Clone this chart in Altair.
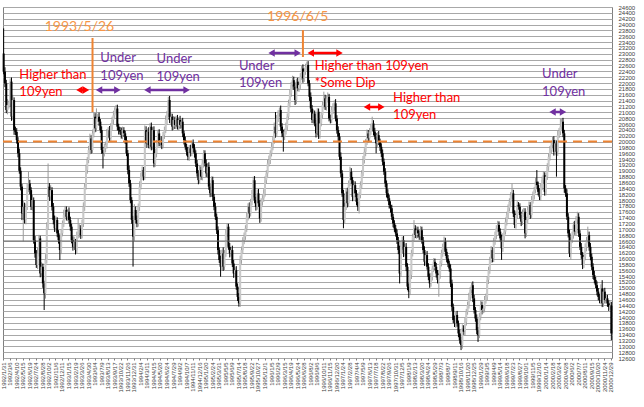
import altair as alt
import pandas as pd

# ---------------- data (weekly candles) ----------------
start_date = "1992-01-31"
first_open = 23010
closes = [
    22390, 21990, 21080, 21250, 21300, 22050, 20850, 21420, 20390, 20330,
    20050, 19600, 19000, 18460, 17540, 17770, 17320, 17770, 18400, 18570,
    18340, 17770, 18000, 16630, 16180, 15780, 16180, 16690, 15490, 15720,
    15150, 14810, 15950, 17090, 18460, 18110, 18340, 17770, 17320, 17030,
    17320, 16860, 16630, 16290, 16860, 17200, 17490, 17660, 17430, 17600,
    17320, 17090, 16630, 16400, 16580, 16290, 16800, 16860, 17030, 16800,
    17200, 17770, 18460, 19030, 19370, 19710, 20110, 19710, 20280, 20850,
    20450, 20790, 20850, 20680, 20390, 19710, 19600, 19770, 19880, 20280,
    20390, 20110, 20510, 20740, 20900, 21080, 21130, 20510, 20390, 20340,
    20220, 20390, 20280, 20050, 19600, 19030, 18570, 18000, 17320, 16750,
    17660, 17320, 17200, 17770, 18460, 18800, 19030, 18800, 20390, 19940,
    20340, 19880, 20510, 19820, 20390, 19250, 19600, 19940, 20280, 19940,
    20050, 19880, 20220, 20390, 20740, 20960, 21420, 20740, 20850, 20510,
    20740, 20560, 20790, 20510, 20740, 20560, 20680, 20280, 20050, 19820,
    19650, 19480, 19770, 19600, 19940, 19770, 19600, 19250, 18910, 18680,
    19030, 18800, 19250, 19600, 19250, 18910, 19140, 18460, 18230, 18680,
    18110, 17770, 17430, 16970, 16290, 15950, 15720, 16180, 15720, 16180,
    16860, 17090, 16400, 16180, 16290, 15830, 15490, 15600, 15040, 14690,
    14470, 15950, 16290, 16630, 16750, 17030, 17430, 17770, 17540, 17940,
    18230, 18680, 18000, 17770, 18230, 17890, 17370, 17940, 18060, 18230,
    18680, 18910, 19250, 19370, 19600, 19820, 20050, 20510, 20280, 20790,
    20960, 21080, 20510, 20280, 20170, 20340, 20510, 20850, 21310, 21650,
    21930, 22100, 21880, 21420, 22050, 21820, 21930, 22220, 22500, 22160,
    22390, 22560, 22620, 21990, 21530, 21130, 20740, 20960, 20620, 20280,
    21020, 20220, 20620, 20910, 21250, 21480, 21190, 21480, 21530, 20790,
    20740, 21080, 21190, 21310, 20790, 20390, 20170, 19480, 18910, 18230,
    17320, 17770, 18290, 17890, 18570, 18970, 18680, 18110, 18510, 18230,
    17940, 17770, 18170, 18510, 18910, 19370, 19650, 19990, 20280, 20110,
    20340, 20510, 20620, 20340, 20170, 19940, 20220, 19990, 19820, 19600,
    19310, 18970, 18570, 18230, 18060, 17830, 17720, 17430, 17200, 17030,
    16860, 16630, 16290, 15490, 16400, 16630, 16180, 16400, 15720, 15040,
    14870, 15440, 16180, 16750, 17030, 16800, 16970, 16860, 16750, 16970,
    16630, 16290, 15890, 16120, 15720, 15380, 15150, 15380, 15660, 15890,
    15720, 15490, 15270, 15440, 15830, 16180, 16400, 16580, 16230, 16000,
    15830, 15660, 15150, 14350, 13900, 13780, 14070, 13780, 13440, 13210,
    13040, 13610, 13500, 13840, 14180, 14410, 14690, 14920, 15090, 14640,
    14240, 13950, 13550, 13380, 14010, 14410, 14240, 14290, 14580, 14690,
    15270, 15600, 15950, 16290, 16000, 16580, 16800, 17030, 17150, 16920,
    16690, 16350, 16750, 16920, 17260, 17490, 17720, 17940, 18170, 18230,
    17540, 17150, 17490, 17830, 17770, 17490, 17260, 17540, 17600, 16860,
    17320, 17660, 17830, 17490, 18000, 18170, 18340, 18630, 18510, 18280,
    18110, 18460, 18680, 18850, 18280, 18800, 19140, 19480, 19710, 19880,
    20050, 19650, 19940, 19650, 20220, 20340, 20510, 20680, 20280, 18400,
    18230, 17430, 16860, 16180, 16630, 16800, 17150, 16920, 17320, 17430,
    16860, 16400, 16120, 15780, 16060, 16400, 16630, 16800, 16400, 16060,
    15720, 15440, 15270, 15090, 14870, 14690, 14580, 14980, 14470, 14870,
    14580, 14640, 14470, 14350, 14400, 13440,
]
upper_wick = [
    860, 150, 120, 200, 100, 110, 140, 180, 90, 120,
    130, 100, 160, 120, 90, 200, 140, 110, 150, 400,
    120, 100, 180, 90, 140, 110, 200, 120, 90, 150,
    110, 90, 200, 150, 790, 120, 180, 100, 130, 150,
    120, 90, 110, 160, 130, 100, 180, 140, 120, 90,
    150, 110, 100, 130, 170, 90, 120, 510, 140, 110,
    130, 150, 120, 180, 100, 140, 160, 110, 130, 150,
    120, 345, 100, 140, 90, 130, 110, 160, 120, 150,
    100, 140, 120, 110, 150, 90, 120, 130, 100, 110,
    140, 120, 100, 90, 130, 110, 150, 120, 100, 140,
    200, 120, 150, 110, 180, 140, 120, 100, 160, 130,
    110, 150, 120, 140, 100, 130, 150, 110, 120, 140,
    100, 130, 110, 120, 150, 90, 110, 140, 120, 100,
    130, 110, 90, 120, 100, 140, 110, 130, 90, 120,
    100, 150, 110, 120, 90, 130, 140, 100, 120, 110,
    160, 120, 130, 110, 100, 140, 120, 150, 110, 130,
    120, 100, 140, 110, 130, 90, 150, 120, 200, 110,
    140, 120, 100, 130, 110, 150, 120, 100, 140, 110,
    130, 150, 120, 100, 140, 110, 130, 120, 150, 100,
    120, 120, 140, 110, 130, 150, 100, 120, 110, 140,
    130, 110, 120, 150, 100, 130, 110, 140, 500, 120,
    110, 85, 150, 120, 130, 100, 140, 110, 120, 130,
    110, 150, 120, 140, 100, 130, 110, 120, 90, 140,
    120, 100, 115, 130, 110, 150, 120, 140, 100, 130,
    120, 110, 140, 100, 130, 225, 120, 110, 150, 100,
    130, 110, 120, 100, 140, 110, 130, 120, 150, 110,
    120, 140, 110, 130, 100, 170, 120, 110, 140, 130,
    110, 120, 100, 130, 110, 140, 120, 100, 130, 110,
    120, 100, 230, 110, 130, 120, 100, 140, 110, 120,
    130, 110, 120, 100, 140, 110, 130, 120, 100, 110,
    120, 130, 110, 150, 180, 120, 140, 110, 130, 120,
    110, 140, 120, 100, 285, 110, 130, 120, 100, 140,
    120, 110, 130, 100, 140, 120, 110, 130, 100, 120,
    110, 130, 120, 140, 100, 120, 110, 170, 130, 110,
    120, 100, 140, 130, 110, 150, 120, 140, 100, 130,
    120, 140, 110, 130, 100, 120, 140, 110, 110, 130,
    120, 100, 140, 110, 130, 150, 120, 100, 140, 110,
    130, 120, 110, 140, 100, 130, 120, 110, 140, 120,
    110, 130, 120, 100, 140, 110, 130, 120, 100, 340,
    120, 110, 140, 130, 100, 120, 110, 140, 130, 120,
    110, 130, 120, 100, 140, 120, 110, 130, 395, 120,
    130, 110, 120, 140, 100, 130, 120, 110, 140, 120,
    110, 130, 120, 100, 140, 120, 280, 110, 130, 120,
    110, 140, 120, 130, 100, 120, 110, 140, 130, 170,
    120, 110, 130, 100, 140, 120, 110, 290, 120, 130,
    110, 120, 140, 100, 130, 120, 110, 140, 280, 120,
    130, 110, 120, 100, 140, 120,
]
lower_wick = [
    90, 130, 110, 150, 120, 100, 140, 120, 160, 110,
    120, 140, 100, 130, 225, 965, 120, 150, 110, 130,
    140, 110, 130, 120, 150, 100, 140, 110, 130, 120,
    150, 570, 180, 120, 100, 140, 110, 130, 150, 120,
    110, 130, 120, 340, 140, 100, 120, 110, 130, 150,
    120, 140, 110, 130, 100, 150, 120, 110, 140, 130,
    110, 120, 140, 100, 130, 110, 150, 120, 100, 140,
    130, 110, 120, 140, 100, 130, 520, 110, 140, 120,
    120, 100, 130, 110, 140, 120, 110, 130, 150, 100,
    120, 140, 110, 130, 100, 150, 120, 110, 130, 1025,
    150, 120, 130, 110, 140, 100, 120, 130, 110, 150,
    130, 110, 140, 120, 100, 130, 110, 140, 120, 100,
    120, 140, 110, 130, 100, 150, 120, 110, 140, 130,
    110, 130, 120, 100, 140, 120, 110, 130, 150, 100,
    130, 120, 140, 110, 100, 130, 150, 120, 110, 140,
    120, 110, 130, 140, 100, 120, 150, 110, 130, 120,
    140, 120, 110, 130, 150, 100, 340, 120, 140, 110,
    120, 130, 100, 140, 110, 120, 150, 130, 110, 140,
    115, 120, 130, 100, 140, 110, 120, 130, 150, 100,
    120, 140, 110, 130, 100, 120, 150, 110, 130, 120,
    110, 130, 120, 100, 140, 110, 120, 130, 150, 100,
    120, 110, 140, 130, 515, 120, 100, 130, 110, 140,
    120, 130, 110, 170, 140, 100, 120, 130, 110, 150,
    120, 110, 130, 100, 140, 120, 110, 130, 100, 140,
    110, 130, 120, 100, 140, 120, 110, 130, 150, 100,
    120, 110, 140, 130, 100, 120, 150, 110, 130, 120,
    285, 120, 110, 140, 130, 100, 120, 150, 110, 130,
    120, 140, 230, 110, 130, 100, 120, 150, 110, 130,
    120, 110, 140, 130, 100, 340, 120, 110, 140, 130,
    120, 110, 130, 140, 100, 120, 150, 110, 130, 120,
    110, 130, 140, 340, 120, 100, 130, 110, 150, 120,
    225, 120, 140, 110, 130, 100, 120, 150, 110, 130,
    120, 110, 140, 130, 100, 120, 150, 110, 130, 120,
    110, 140, 120, 575, 130, 100, 120, 110, 140, 130,
    120, 110, 130, 140, 100, 120, 150, 110, 130, 120,
    170, 120, 110, 140, 130, 100, 120, 150, 110, 130,
    120, 110, 140, 230, 100, 120, 150, 110, 130, 120,
    110, 140, 120, 100, 130, 120, 110, 140, 130, 120,
    110, 395, 120, 140, 100, 130, 120, 110, 140, 130,
    120, 110, 130, 140, 100, 120, 150, 110, 130, 170,
    120, 110, 140, 130, 100, 120, 150, 110, 130, 120,
    110, 140, 120, 100, 130, 120, 110, 140, 130, 120,
    110, 130, 120, 850, 140, 100, 120, 110, 130, 150,
    120, 110, 140, 130, 225, 100, 120, 110, 130, 140,
    120, 110, 130, 140, 100, 120, 150, 110, 130, 120,
    110, 140, 120, 100, 130, 120, 110, 140, 130, 120,
    110, 130, 120, 140, 100, 230,
]

y_ticks = list(range(12600, 24601, 200))
ref_level = 20000
dark_level = 16600

# annotations: (text, week index, price, colour)
RED, PURPLE, ORANGE = "#ff0000", "#7030a0", "#f79646"
notes_left = [
    ("Higher than", 12, 22275, RED), ("109yen", 12, 21694, RED),
    ("Under", 74, 22856, PURPLE), ("109yen", 74, 22241, PURPLE),
    ("Under", 117, 22822, PURPLE), ("109yen", 117, 22207, PURPLE),
    ("Under", 180, 22583, PURPLE), ("109yen", 180, 22002, PURPLE),
    ("Higher than 109yen", 238, 22583, RED), ("*Some Dip", 238, 22002, RED),
    ("Higher than", 298, 21489, RED), ("109yen", 298, 20908, RED),
    ("Under", 412, 22310, PURPLE), ("109yen", 412, 21694, PURPLE),
]
notes_date = [("1993/5/26", 58, 23916, ORANGE), ("1996/6/5", 225, 24258, ORANGE)]
# vertical markers: (week index, low price, high price)
markers = [(68, 21010, 23540), (229, 22890, 23810)]
# double arrows: (week start, week end, price, colour)
arrows = [
    (58, 63, 21762, RED), (73, 87, 21762, PURPLE), (110, 140, 21762, PURPLE),
    (205, 225, 23027, PURPLE), (235, 257, 23027, RED), (278, 289, 21181, RED),
    (420, 428, 21010, PURPLE),
]

# ---------------- tables ----------------
n = len(closes)
dates = [f"{d.year}/{d.month}/{d.day}" for d in pd.date_range(start_date, periods=n, freq="7D")]
opens = [first_open] + closes[:-1]
rows = []
for i in range(n):
    o, c = opens[i], closes[i]
    up = c >= o
    rows.append(dict(date=dates[i], open=o, close=c,
                     high=max(o, c) + upper_wick[i], low=min(o, c) - lower_wick[i],
                     wcol="#9a9a9a" if up else "#000000",
                     bcol="#c8c8c8" if up else "#000000"))
df = pd.DataFrame(rows)

left_df = pd.DataFrame([dict(t=t, date=dates[w], p=p, c=c) for t, w, p, c in notes_left])
date_df = pd.DataFrame([dict(t=t, date=dates[w], p=p, c=c) for t, w, p, c in notes_date])
mark_df = pd.DataFrame([dict(date=dates[w], p1=a, p2=b) for w, a, b in markers])
arrow_df = pd.DataFrame([dict(d1=dates[a], d2=dates[b], p=p, c=c) for a, b, p, c in arrows])

xscale = alt.Scale(type="band", domain=dates, paddingInner=0, paddingOuter=0)
yscale = alt.Scale(domain=[12600, 24600], nice=False, zero=False)

x_axis = alt.Axis(values=dates[::5], labelAngle=-90, labelFontSize=6, labelFont="Liberation Sans",
                  labelColor="#404040", labelOverlap=False, labelPadding=2, tickSize=2,
                  tickColor="#808080", domain=False, grid=False, title=None)
y_axis = alt.Axis(orient="right", values=y_ticks, format="d", labelFontSize=6,
                  labelFont="Liberation Sans", labelColor="#404040", labelOverlap=False,
                  labelPadding=6, tickSize=0, domain=False, grid=True,
                  gridColor="#a8a8a8", gridWidth=1, title=None)


def X(field="date"):
    return alt.X(f"{field}:O", scale=xscale, sort=None, axis=x_axis, title=None)


def Y(field):
    return alt.Y(f"{field}:Q", scale=yscale, axis=y_axis, title=None)


wicks = alt.Chart(df).mark_rule(strokeWidth=1).encode(
    x=X("date"), y=Y("low"), y2="high", color=alt.Color("wcol:N", scale=None))
bodies = alt.Chart(df).mark_bar(size=2).encode(
    x=X(), y=Y("open"), y2="close", color=alt.Color("bcol:N", scale=None))

dark = alt.Chart(pd.DataFrame({"v": [dark_level]})).mark_rule(color="#6a6a6a", strokeWidth=1).encode(y=Y("v"))
dash = alt.Chart(pd.DataFrame({"v": [ref_level]})).mark_rule(
    color="#ee8433", strokeWidth=2, strokeDash=[9, 6]).encode(y=Y("v"))

vlines = alt.Chart(mark_df).mark_rule(color="#ee8433", strokeWidth=2).encode(x=X(), y=Y("p1"), y2="p2")

arr_line = alt.Chart(arrow_df).mark_rule(strokeWidth=2.5).encode(
    x=X("d1"), x2="d2", y=Y("p"), color=alt.Color("c:N", scale=None))
arr_l = alt.Chart(arrow_df).mark_point(shape="triangle-left", filled=True, size=55, opacity=1).encode(
    x=X("d1"), y=Y("p"), color=alt.Color("c:N", scale=None))
arr_r = alt.Chart(arrow_df).mark_point(shape="triangle-right", filled=True, size=55, opacity=1).encode(
    x=X("d2"), y=Y("p"), color=alt.Color("c:N", scale=None))

txt_left = alt.Chart(left_df).mark_text(align="left", baseline="middle", font="Lato", fontSize=13).encode(
    x=X(), y=Y("p"), text="t:N", color=alt.Color("c:N", scale=None))
txt_date = alt.Chart(date_df).mark_text(align="center", baseline="middle", font="Lato", fontSize=14).encode(
    x=X(), y=Y("p"), text="t:N", color=alt.Color("c:N", scale=None))

chart = alt.layer(
    wicks, bodies, dark, dash, vlines, arr_line, arr_l, arr_r, txt_left, txt_date
).properties(
    width=609, height=351,
    autosize=alt.AutoSizeParams(type="none"),
    padding={"left": 3, "top": 7, "right": 32, "bottom": 49},
    background="white",
).configure_view(stroke="#7f7f7f", strokeWidth=1)

chart.save("out.html", embed_options={"renderer": "svg", "actions": False})
